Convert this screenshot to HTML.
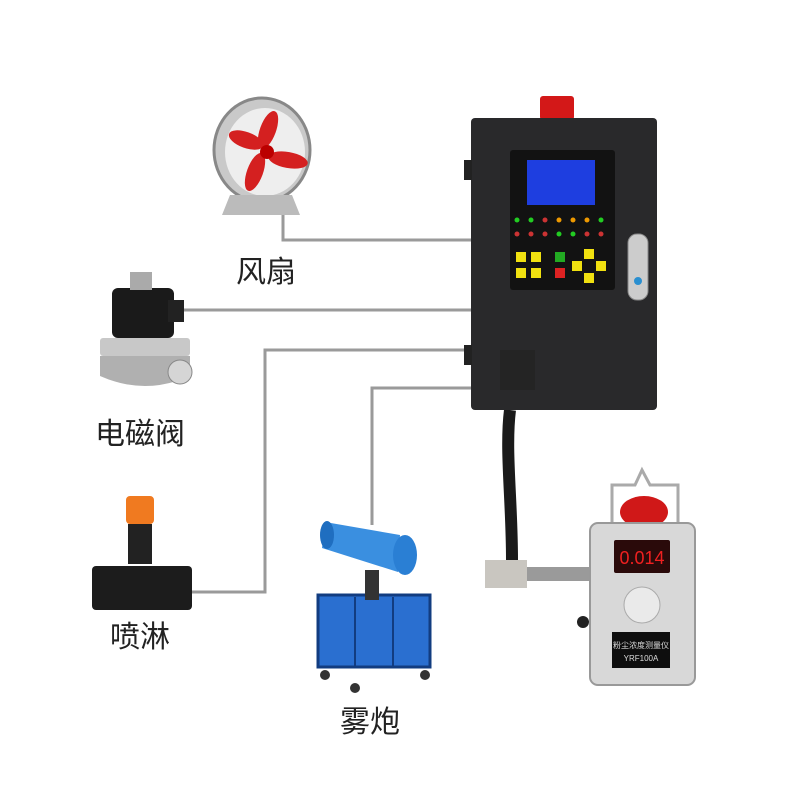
<!DOCTYPE html>
<html><head><meta charset="utf-8"><style>
body{margin:0;background:#fff;}
svg{display:block}
text{font-family:"Liberation Sans","Noto Sans CJK SC",sans-serif;}
</style></head><body>
<svg width="800" height="800" viewBox="0 0 800 800" xmlns="http://www.w3.org/2000/svg">
<rect width="800" height="800" fill="#fff"/>
<g stroke="#9a9a9a" stroke-width="3" fill="none">
<polyline points="283,212 283,240 472,240"/>
<polyline points="182,310 472,310"/>
<polyline points="190,592 265,592 265,350 472,350"/>
<polyline points="372,525 372,388 472,388"/>
</g>
<g>
<ellipse cx="262" cy="150" rx="48" ry="52" fill="#c9c9c9" stroke="#888" stroke-width="3"/>
<ellipse cx="265" cy="152" rx="40" ry="44" fill="#eee"/>
<path d="M230,195 L222,215 L300,215 L292,195 Z" fill="#bbb"/>
<g fill="#d42020">
<ellipse cx="268" cy="130" rx="8" ry="20" transform="rotate(20 268 130)"/>
<ellipse cx="288" cy="160" rx="8" ry="20" transform="rotate(100 288 160)"/>
<ellipse cx="255" cy="172" rx="8" ry="20" transform="rotate(200 255 172)"/>
<ellipse cx="246" cy="140" rx="8" ry="18" transform="rotate(290 246 140)"/>
</g>
<circle cx="267" cy="152" r="7" fill="#b00"/>
</g>
<text x="266" y="282" font-size="30" text-anchor="middle" fill="#222">风扇</text>
<g>
<rect x="112" y="288" width="62" height="50" rx="6" fill="#1a1a1a"/>
<rect x="130" y="272" width="22" height="18" fill="#aaa"/>
<rect x="168" y="300" width="16" height="22" fill="#222"/>
<rect x="100" y="338" width="90" height="18" rx="3" fill="#c8c8c8"/>
<path d="M100,356 h90 v20 q-45,20 -90,0 z" fill="#b0b0b0"/>
<circle cx="180" cy="372" r="12" fill="#d5d5d5" stroke="#888"/>
</g>
<text x="140" y="444" font-size="30" text-anchor="middle" fill="#222">电磁阀</text>
<g>
<rect x="126" y="496" width="28" height="28" rx="4" fill="#f07a20"/>
<rect x="128" y="524" width="24" height="40" fill="#222"/>
<rect x="92" y="566" width="100" height="44" rx="4" fill="#1c1c1c"/>
</g>
<text x="140" y="647" font-size="30" text-anchor="middle" fill="#222">喷淋</text>
<g>
<rect x="318" y="595" width="112" height="72" fill="#2a6fd0" stroke="#123c80" stroke-width="3"/>
<line x1="355" y1="597" x2="355" y2="666" stroke="#123c80" stroke-width="2"/>
<line x1="393" y1="597" x2="393" y2="666" stroke="#123c80" stroke-width="2"/>
<circle cx="325" cy="675" r="5" fill="#333"/><circle cx="425" cy="675" r="5" fill="#333"/>
<circle cx="355" cy="688" r="5" fill="#333"/>
<rect x="365" y="570" width="14" height="30" fill="#333"/>
<path d="M325,522 L400,535 L398,572 L322,548 Z" fill="#3a8fe0"/>
<ellipse cx="327" cy="535" rx="7" ry="14" fill="#1f6ec0"/>
<ellipse cx="405" cy="555" rx="12" ry="20" fill="#2a7fd4"/>
</g>
<text x="370" y="732" font-size="30" text-anchor="middle" fill="#222">雾炮</text>
<path d="M510,410 C505,450 512,500 512,560" stroke="#1a1a1a" stroke-width="12" fill="none"/>
<rect x="485" y="560" width="42" height="28" fill="#c9c6c0"/>
<rect x="527" y="567" width="62" height="14" fill="#9a9a9a"/>
<rect x="540" y="96" width="34" height="24" rx="3" fill="#d31818"/>
<rect x="471" y="118" width="186" height="292" rx="4" fill="#29292b"/>
<rect x="464" y="160" width="8" height="20" fill="#222"/>
<rect x="464" y="345" width="8" height="20" fill="#222"/>
<rect x="510" y="150" width="105" height="140" rx="3" fill="#121212"/>
<rect x="527" y="160" width="68" height="45" fill="#1e3ee0"/>
<rect x="500" y="350" width="35" height="40" fill="#242424"/>
<g fill="#2c2">
<circle cx="517" cy="220" r="2.5"/><circle cx="531" cy="220" r="2.5"/><circle cx="545" cy="220" r="2.5" fill="#c33"/><circle cx="559" cy="220" r="2.5" fill="#e90"/><circle cx="573" cy="220" r="2.5" fill="#e90"/><circle cx="587" cy="220" r="2.5" fill="#e90"/><circle cx="601" cy="220" r="2.5"/>
<circle cx="517" cy="234" r="2.5" fill="#c33"/><circle cx="531" cy="234" r="2.5" fill="#c33"/><circle cx="545" cy="234" r="2.5" fill="#c33"/><circle cx="559" cy="234" r="2.5"/><circle cx="573" cy="234" r="2.5"/><circle cx="587" cy="234" r="2.5" fill="#c33"/><circle cx="601" cy="234" r="2.5" fill="#c33"/>
</g>
<g fill="#f0e010">
<rect x="516" y="252" width="10" height="10"/><rect x="531" y="252" width="10" height="10"/><rect x="516" y="268" width="10" height="10"/><rect x="531" y="268" width="10" height="10"/>
<rect x="584" y="249" width="10" height="10"/><rect x="572" y="261" width="10" height="10"/><rect x="596" y="261" width="10" height="10"/><rect x="584" y="273" width="10" height="10"/>
</g>
<rect x="555" y="252" width="10" height="10" fill="#2a2"/><rect x="555" y="268" width="10" height="10" fill="#d22"/>
<rect x="628" y="234" width="20" height="66" rx="9" fill="#ccc" stroke="#888"/>
<circle cx="638" cy="281" r="4" fill="#2a8fd0"/>
<path d="M612,525 L612,485 L635,485 L642,470 L650,485 L678,485 L678,525" stroke="#aaa" stroke-width="3" fill="none"/>
<ellipse cx="644" cy="512" rx="24" ry="16" fill="#d01818"/>
<rect x="590" y="523" width="105" height="162" rx="8" fill="#d8d8d8" stroke="#999" stroke-width="2"/>
<rect x="614" y="540" width="56" height="33" rx="2" fill="#2a0a0a"/>
<text x="642" y="564" font-size="18" text-anchor="middle" fill="#f02020" font-family="Liberation Mono">0.014</text>
<circle cx="642" cy="605" r="18" fill="#eaeaea" stroke="#aaa"/>
<rect x="612" y="632" width="58" height="36" fill="#0e0e0e"/>
<text x="641" y="648" font-size="8" text-anchor="middle" fill="#ddd">粉尘浓度测量仪</text>
<text x="641" y="661" font-size="8" text-anchor="middle" fill="#ddd" font-family="Liberation Serif">YRF100A</text>
<circle cx="583" cy="622" r="6" fill="#222"/>
</svg>
</body></html>
